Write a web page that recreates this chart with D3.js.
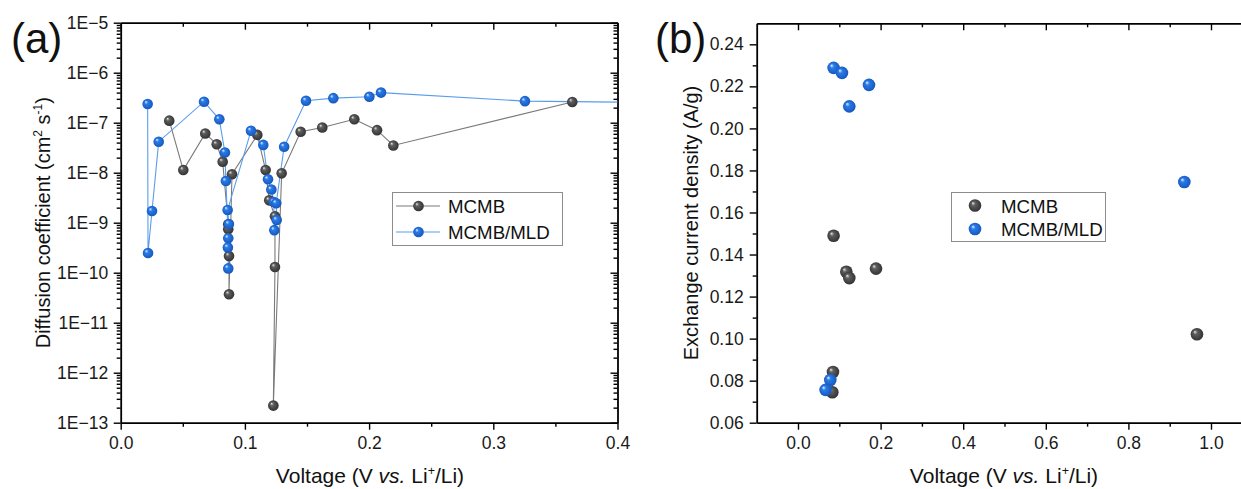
<!DOCTYPE html>
<html>
<head>
<meta charset="utf-8">
<script src="https://cdn.jsdelivr.net/npm/d3@7"></script>
<style>
  html, body { margin: 0; padding: 0; background: #fff; }
  svg { display: block; font-family: Arial, "Liberation Sans", sans-serif; }
</style>
</head>
<body>
<svg id="fig" width="1241" height="489"></svg>
<script>
// ---------- Panel (a): diffusion coefficient vs. voltage ----------
const mcmbVoltage = [0.0391, 0.0504, 0.0681, 0.0773, 0.0821, 0.0866, 0.0866, 0.0872, 0.0872, 0.0896,
  0.1100, 0.1167, 0.1196, 0.1242, 0.1242, 0.1229, 0.1296, 0.1449, 0.1623, 0.1881, 0.2064, 0.2195, 0.3636];
const mcmbDiffusion = [1.1e-7, 1.13e-8, 6.1e-8, 3.7e-8, 1.66e-8, 9.3e-10, 7.4e-10, 2.16e-10, 3.7e-11, 9.3e-9,
  5.7e-8, 1.13e-8, 2.8e-9, 1.35e-9, 1.3e-10, 2.2e-13, 9.7e-9, 6.6e-8, 8.0e-8, 1.17e-7, 7.1e-8, 3.5e-8, 2.6e-7];

const mldVoltage = [0.0217, 0.0220, 0.0252, 0.0306, 0.0671, 0.0794, 0.0839, 0.0847, 0.0866, 0.0863, 0.0866,
  0.0871, 0.0861, 0.1049, 0.1148, 0.1186, 0.1213, 0.1233, 0.1237, 0.1256, 0.1252, 0.1316,
  0.1492, 0.1712, 0.2002, 0.2096, 0.3255, 0.4500];
const mldDiffusion = [2.37e-7, 2.48e-10, 1.71e-9, 4.17e-8, 2.63e-7, 1.17e-7, 2.54e-8, 6.8e-9, 4.9e-10, 3.2e-10, 1.22e-10,
  9.4e-10, 1.8e-9, 6.9e-8, 3.6e-8, 7.4e-9, 4.6e-9, 2.6e-9, 7.1e-10, 1.13e-9, 2.45e-9, 3.3e-8,
  2.75e-7, 3.1e-7, 3.3e-7, 4.0e-7, 2.7e-7, 2.5e-7];

const diffTickValues = [1e-5, 1e-6, 1e-7, 1e-8, 1e-9, 1e-10, 1e-11, 1e-12, 1e-13];
const diffTickLabels = ["1E\u22125", "1E\u22126", "1E\u22127", "1E\u22128", "1E\u22129", "1E\u221210", "1E\u221211", "1E\u221212", "1E\u221213"];
const voltTicksA = [0, 0.1, 0.2, 0.3, 0.4];
const voltLabelsA = ["0.0", "0.1", "0.2", "0.3", "0.4"];

// ---------- Panel (b): exchange current density vs. voltage ----------
const mcmbVoltageB = [0.0862, 0.1170, 0.1242, 0.1889, 0.0847, 0.0831, 0.9660];
const mcmbCurrent = [0.1489, 0.1318, 0.1288, 0.1333, 0.0841, 0.0745, 0.1021];
const mldVoltageB = [0.0862, 0.1065, 0.1242, 0.1719, 0.9354, 0.0782, 0.0668];
const mldCurrent = [0.2288, 0.2264, 0.2105, 0.2207, 0.1745, 0.0803, 0.0756];

const currentTicks = [0.06, 0.08, 0.10, 0.12, 0.14, 0.16, 0.18, 0.20, 0.22, 0.24];
const voltTicksB = [0.0, 0.2, 0.4, 0.6, 0.8, 1.0];

const seriesNames = ["MCMB", "MCMB/MLD"];

const svg = d3.select("#fig");
const defs = svg.append("defs");

// shaded ball markers
function ballGradient(id, hi, mid, dark) {
  const g = defs.append("radialGradient").attr("id", id)
    .attr("cx", "50%").attr("cy", "50%").attr("r", "55%")
    .attr("fx", "32%").attr("fy", "30%");
  g.append("stop").attr("offset", "0%").attr("stop-color", hi);
  g.append("stop").attr("offset", "30%").attr("stop-color", mid);
  g.append("stop").attr("offset", "100%").attr("stop-color", dark);
}
ballGradient("ballGray", "#e6e6e6", "#5e5e5e", "#2e2e2e");
ballGradient("ballBlue", "#eaf3ff", "#2a7be8", "#1454b8");

const grayLine = "#7a7a7a";
const blueLine = "#5a9cec";
const TICK_FONT = 17.5;
const TITLE_FONT = 20;

// ===== Panel (a) =====
const ax = { left: 120.7, right: 617.5, top: 22.7, bottom: 422.7 };
const xA = d3.scaleLinear().domain([0, 0.4]).range([ax.left, ax.right]);
const yA = d3.scaleLog().domain([1e-13, 1e-5]).range([ax.bottom, ax.top]);

defs.append("clipPath").attr("id", "clipA").append("rect")
  .attr("x", ax.left).attr("y", ax.top - 8)
  .attr("width", ax.right - ax.left).attr("height", ax.bottom - ax.top + 16);

const minorLog = [];
for (let e = -13; e < -5; e++) for (let k = 2; k <= 9; k++) minorLog.push(k * Math.pow(10, e));
const minorVoltA = [0.05, 0.15, 0.25, 0.35];

const gA = svg.append("g");

function styleAxis(g) {
  g.selectAll(".domain").attr("stroke", "#000").attr("stroke-width", 1.8);
  g.selectAll(".tick line").attr("stroke", "#000").attr("stroke-width", 1.4);
  g.selectAll("text").attr("fill", "#1a1a1a").attr("font-size", TICK_FONT)
    .attr("font-family", "Arial, 'Liberation Sans', sans-serif");
}

// left axis (majors + minors, outward)
gA.append("g").attr("transform", `translate(${ax.left},0)`)
  .call(d3.axisLeft(yA).tickValues(minorLog).tickSize(4).tickFormat(""))
  .call(g => g.select(".domain").remove())
  .call(styleAxis);
gA.append("g").attr("transform", `translate(${ax.left},0)`)
  .call(d3.axisLeft(yA).tickValues(diffTickValues).tickSize(7).tickPadding(5.5)
    .tickFormat((d, i) => diffTickLabels[i]).tickSizeOuter(0))
  .call(styleAxis);
// right frame (inward ticks)
gA.append("g").attr("transform", `translate(${ax.right},0)`)
  .call(d3.axisLeft(yA).tickValues(minorLog).tickSize(4).tickFormat(""))
  .call(g => g.select(".domain").remove()).call(styleAxis);
gA.append("g").attr("transform", `translate(${ax.right},0)`)
  .call(d3.axisLeft(yA).tickValues(diffTickValues).tickSize(7).tickFormat("").tickSizeOuter(0))
  .call(styleAxis);
// bottom axis (outward)
gA.append("g").attr("transform", `translate(0,${ax.bottom})`)
  .call(d3.axisBottom(xA).tickValues(minorVoltA).tickSize(4).tickFormat(""))
  .call(g => g.select(".domain").remove()).call(styleAxis);
gA.append("g").attr("transform", `translate(0,${ax.bottom})`)
  .call(d3.axisBottom(xA).tickValues(voltTicksA).tickSize(7).tickPadding(7)
    .tickFormat((d, i) => voltLabelsA[i]).tickSizeOuter(0))
  .call(styleAxis);
// top frame (inward ticks)
gA.append("g").attr("transform", `translate(0,${ax.top})`)
  .call(d3.axisBottom(xA).tickValues(minorVoltA).tickSize(4).tickFormat(""))
  .call(g => g.select(".domain").remove()).call(styleAxis);
gA.append("g").attr("transform", `translate(0,${ax.top})`)
  .call(d3.axisBottom(xA).tickValues(voltTicksA).tickSize(7).tickFormat("").tickSizeOuter(0))
  .call(styleAxis);

const plotA = gA.append("g").attr("clip-path", "url(#clipA)");
const lineA = d3.line().x(d => xA(d[0])).y(d => yA(d[1]));
const mcmbPts = mcmbVoltage.map((v, i) => [v, mcmbDiffusion[i]]);
const mldPts = mldVoltage.map((v, i) => [v, mldDiffusion[i]]);

plotA.append("path").attr("d", lineA(mcmbPts)).attr("fill", "none")
  .attr("stroke", grayLine).attr("stroke-width", 1.1);
plotA.append("path").attr("d", lineA(mldPts)).attr("fill", "none")
  .attr("stroke", blueLine).attr("stroke-width", 1.1);
plotA.selectAll("circle.g").data(mcmbPts).join("circle").attr("class", "g")
  .attr("cx", d => xA(d[0])).attr("cy", d => yA(d[1])).attr("r", 5.3)
  .attr("fill", "url(#ballGray)");
plotA.selectAll("circle.b").data(mldPts).join("circle").attr("class", "b")
  .attr("cx", d => xA(d[0])).attr("cy", d => yA(d[1])).attr("r", 5.3)
  .attr("fill", "url(#ballBlue)");

// legend (a)
const legA = gA.append("g");
legA.append("rect").attr("x", 392.5).attr("y", 192.5).attr("width", 170).attr("height", 53)
  .attr("fill", "#fff").attr("stroke", "#8c8c8c").attr("stroke-width", 1);
[[grayLine, "url(#ballGray)", 206], [blueLine, "url(#ballBlue)", 232]].forEach((s, i) => {
  legA.append("line").attr("x1", 396).attr("x2", 440).attr("y1", s[2]).attr("y2", s[2])
    .attr("stroke", s[0]).attr("stroke-width", 1.1);
  legA.append("circle").attr("cx", 418.5).attr("cy", s[2]).attr("r", 5.3).attr("fill", s[1]);
  legA.append("text").attr("x", 448).attr("y", s[2] + 7).attr("font-size", 18.7).attr("fill", "#111")
    .text(seriesNames[i]);
});

// axis titles (a)
const ytA = gA.append("text").attr("transform", `translate(50,${(ax.top + ax.bottom) / 2}) rotate(-90)`)
  .attr("text-anchor", "middle").attr("font-size", TITLE_FONT).attr("fill", "#111");
ytA.append("tspan").text("Diffusion coefficient (cm");
ytA.append("tspan").attr("font-size", 12).attr("dy", -8).text("2");
ytA.append("tspan").attr("dy", 8).text(" s");
ytA.append("tspan").attr("font-size", 12).attr("dy", -8).text("-1");
ytA.append("tspan").attr("dy", 8).text(")");

function voltageTitle(g, cx) {
  const t = g.append("text").attr("x", cx).attr("y", 483).attr("text-anchor", "middle")
    .attr("font-size", 21).attr("fill", "#111");
  t.append("tspan").text("Voltage (V ");
  t.append("tspan").attr("font-style", "italic").text("vs.");
  t.append("tspan").text(" Li");
  t.append("tspan").attr("font-size", 12.5).attr("dy", -8).text("+");
  t.append("tspan").attr("dy", 8).text("/Li)");
}
voltageTitle(gA, 370);

svg.append("text").attr("x", 11).attr("y", 53).attr("font-size", 42).attr("fill", "#111").text("(a)");

// ===== Panel (b) =====
const bx = { left: 756.7, top: 23.3, bottom: 422.7 };
const xB = d3.scaleLinear().domain([-0.1, 1.1]).range([bx.left, bx.left + 1.2 * 413]);
const yB = d3.scaleLinear().domain([0.06, 0.25]).range([bx.bottom, bx.top]);
const bxRight = xB(1.1);

const minorCurrent = d3.range(0.07, 0.25, 0.02);
const minorVoltB = [0.1, 0.3, 0.5, 0.7, 0.9];

const gB = svg.append("g");
gB.append("g").attr("transform", `translate(${bx.left},0)`)
  .call(d3.axisLeft(yB).tickValues(minorCurrent).tickSize(4).tickFormat(""))
  .call(g => g.select(".domain").remove()).call(styleAxis);
gB.append("g").attr("transform", `translate(${bx.left},0)`)
  .call(d3.axisLeft(yB).tickValues(currentTicks).tickSize(7).tickPadding(6)
    .tickFormat(d3.format(".2f")).tickSizeOuter(0))
  .call(styleAxis);
gB.append("g").attr("transform", `translate(0,${bx.bottom})`)
  .call(d3.axisBottom(xB).tickValues(minorVoltB).tickSize(4).tickFormat(""))
  .call(g => g.select(".domain").remove()).call(styleAxis);
gB.append("g").attr("transform", `translate(0,${bx.bottom})`)
  .call(d3.axisBottom(xB).tickValues(voltTicksB).tickSize(7).tickPadding(7)
    .tickFormat(d3.format(".1f")).tickSizeOuter(0))
  .call(styleAxis);
gB.append("g").attr("transform", `translate(0,${bx.top})`)
  .call(d3.axisBottom(xB).tickValues(minorVoltB).tickSize(4).tickFormat(""))
  .call(g => g.select(".domain").remove()).call(styleAxis);
gB.append("g").attr("transform", `translate(0,${bx.top})`)
  .call(d3.axisBottom(xB).tickValues(voltTicksB).tickSize(7).tickFormat("").tickSizeOuter(0))
  .call(styleAxis);
gB.append("g").attr("transform", `translate(${bxRight},0)`)
  .call(d3.axisLeft(yB).tickValues(currentTicks).tickSize(7).tickFormat("").tickSizeOuter(0))
  .call(styleAxis);

const mcmbPtsB = mcmbVoltageB.map((v, i) => [v, mcmbCurrent[i]]);
const mldPtsB = mldVoltageB.map((v, i) => [v, mldCurrent[i]]);
gB.selectAll("circle.g").data(mcmbPtsB).join("circle").attr("class", "g")
  .attr("cx", d => xB(d[0])).attr("cy", d => yB(d[1])).attr("r", 6.3)
  .attr("fill", "url(#ballGray)");
gB.selectAll("circle.b").data(mldPtsB).join("circle").attr("class", "b")
  .attr("cx", d => xB(d[0])).attr("cy", d => yB(d[1])).attr("r", 6.3)
  .attr("fill", "url(#ballBlue)");

// legend (b)
const legB = gB.append("g");
legB.append("rect").attr("x", 951.5).attr("y", 192.5).attr("width", 154).attr("height", 49)
  .attr("fill", "#fff").attr("stroke", "#8c8c8c").attr("stroke-width", 1);
[["url(#ballGray)", 205.5], ["url(#ballBlue)", 229]].forEach((s, i) => {
  legB.append("circle").attr("cx", 975).attr("cy", s[1]).attr("r", 6.3).attr("fill", s[0]);
  legB.append("text").attr("x", 1001).attr("y", s[1] + 7).attr("font-size", 18.7).attr("fill", "#111")
    .text(seriesNames[i]);
});

gB.append("text").attr("transform", `translate(698,${(bx.top + bx.bottom) / 2}) rotate(-90)`)
  .attr("text-anchor", "middle").attr("font-size", TITLE_FONT).attr("fill", "#111")
  .text("Exchange current density (A/g)");
voltageTitle(gB, 1004);

svg.append("text").attr("x", 655).attr("y", 53).attr("font-size", 42).attr("fill", "#111").text("(b)");
</script>
</body>
</html>
